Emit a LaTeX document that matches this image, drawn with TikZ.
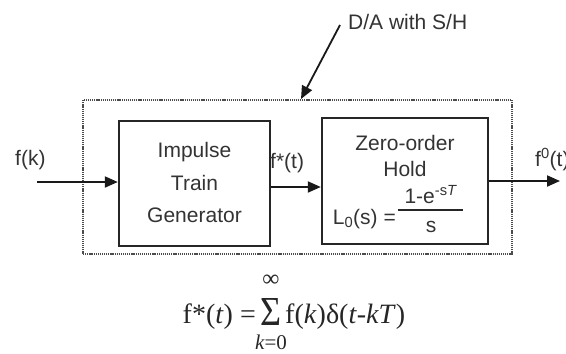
\documentclass[tikz,border=0pt]{standalone}
\usepackage{fontspec}
\setmainfont{Liberation Sans}
\newfontfamily\tms{Liberation Serif}
\usetikzlibrary{arrows.meta,calc}
\begin{document}
\begin{tikzpicture}[x=1pt,y=-1pt,
  blockbox/.style={draw=black!85, line width=2.4pt, inner sep=0pt},
  dabox/.style={draw=black!70, line width=2pt, dash pattern=on 1.2pt off 0.9pt, inner sep=0pt},
  arr/.style={draw=black!90, line width=2pt, -{Triangle[length=13pt,width=11pt]}},
  lbl/.style={font=\fontsize{21}{24}\selectfont, text=black!80, inner sep=0pt},
  eqtxt/.style={font=\tms\fontsize{28}{32}\selectfont, text=black!85, inner sep=0pt},
]
\useasboundingbox (0,0) rectangle (566,354);
\clip (0,0) rectangle (566,354);
% D/A with S/H dotted frame
\node[dabox, minimum width=429pt, minimum height=154pt] (da) at (297.5,177) {};
% blocks
\node[blockbox, minimum width=151pt, minimum height=125pt] (lb) at (194.5,183.5) {};
\node[blockbox, minimum width=166pt, minimum height=126pt] (rb) at (405,181) {};
\node[lbl, anchor=base] (imp) at (194.5,157) {Impulse};
\node[lbl, anchor=base] (trn) at (194.5,190) {Train};
\node[lbl, anchor=base] (gen) at (194.5,222) {Generator};
\node[lbl, anchor=base] (zo) at (405,150) {Zero-order};
\node[lbl, anchor=base] (hold) at (405,176) {Hold};
\node[lbl, anchor=base east] (lzero) at (396,224) {L\textsubscript{0}(s) =};
\node[lbl, anchor=base] (num) at (431,203) {1-e\textsuperscript{-s\textit{T}}};
\node[lbl, anchor=base] (den) at (431,232) {s};
\draw[line width=1.6pt, black!85] (398,210) -- (463,210);
% labels
\node[lbl, anchor=base west] (fk) at (15,165) {f(k)};
\node[lbl, anchor=base west] (fst) at (270,168) {f*(t)};
\node[lbl, anchor=base west] (fzero) at (535,166) {f\textsuperscript{0}(t)};
\node[lbl, anchor=base west] (dal) at (348,29) {D/A with S/H};
% connectors
\coordinate (fin) at (37,182);
\coordinate (fout) at (560,181);
\coordinate (dastart) at (340,25);
\draw[arr] (fin) -- (lb.west |- fin);
\draw[arr] ([yshift=-3.5pt]lb.east) -- ([yshift=-3.5pt]lb.east -| rb.west);
\draw[arr] (rb.east |- fout) -- (fout);
\draw[arr, line width=1.8pt] (dastart) -- ([xshift=3.5pt]da.north);
% formula
\node[eqtxt, anchor=base east] (eql) at (256,323) {f*(\textit{t}) =};
\node[inner sep=0pt, text=black!85] (sig) at (271,312) {\resizebox*{21pt}{27pt}{\tms Σ}};
\node[eqtxt, font=\tms\fontsize{24}{26}\selectfont] (inf) at (271,281) {∞};
\node[eqtxt, font=\tms\fontsize{21}{24}\selectfont] (low) at (271,342) {\textit{k}=0};
\node[eqtxt, anchor=base west] (eqr) at (285,323) {f(\textit{k})δ(\textit{t}-\textit{kT})};
\end{tikzpicture}
\end{document}
